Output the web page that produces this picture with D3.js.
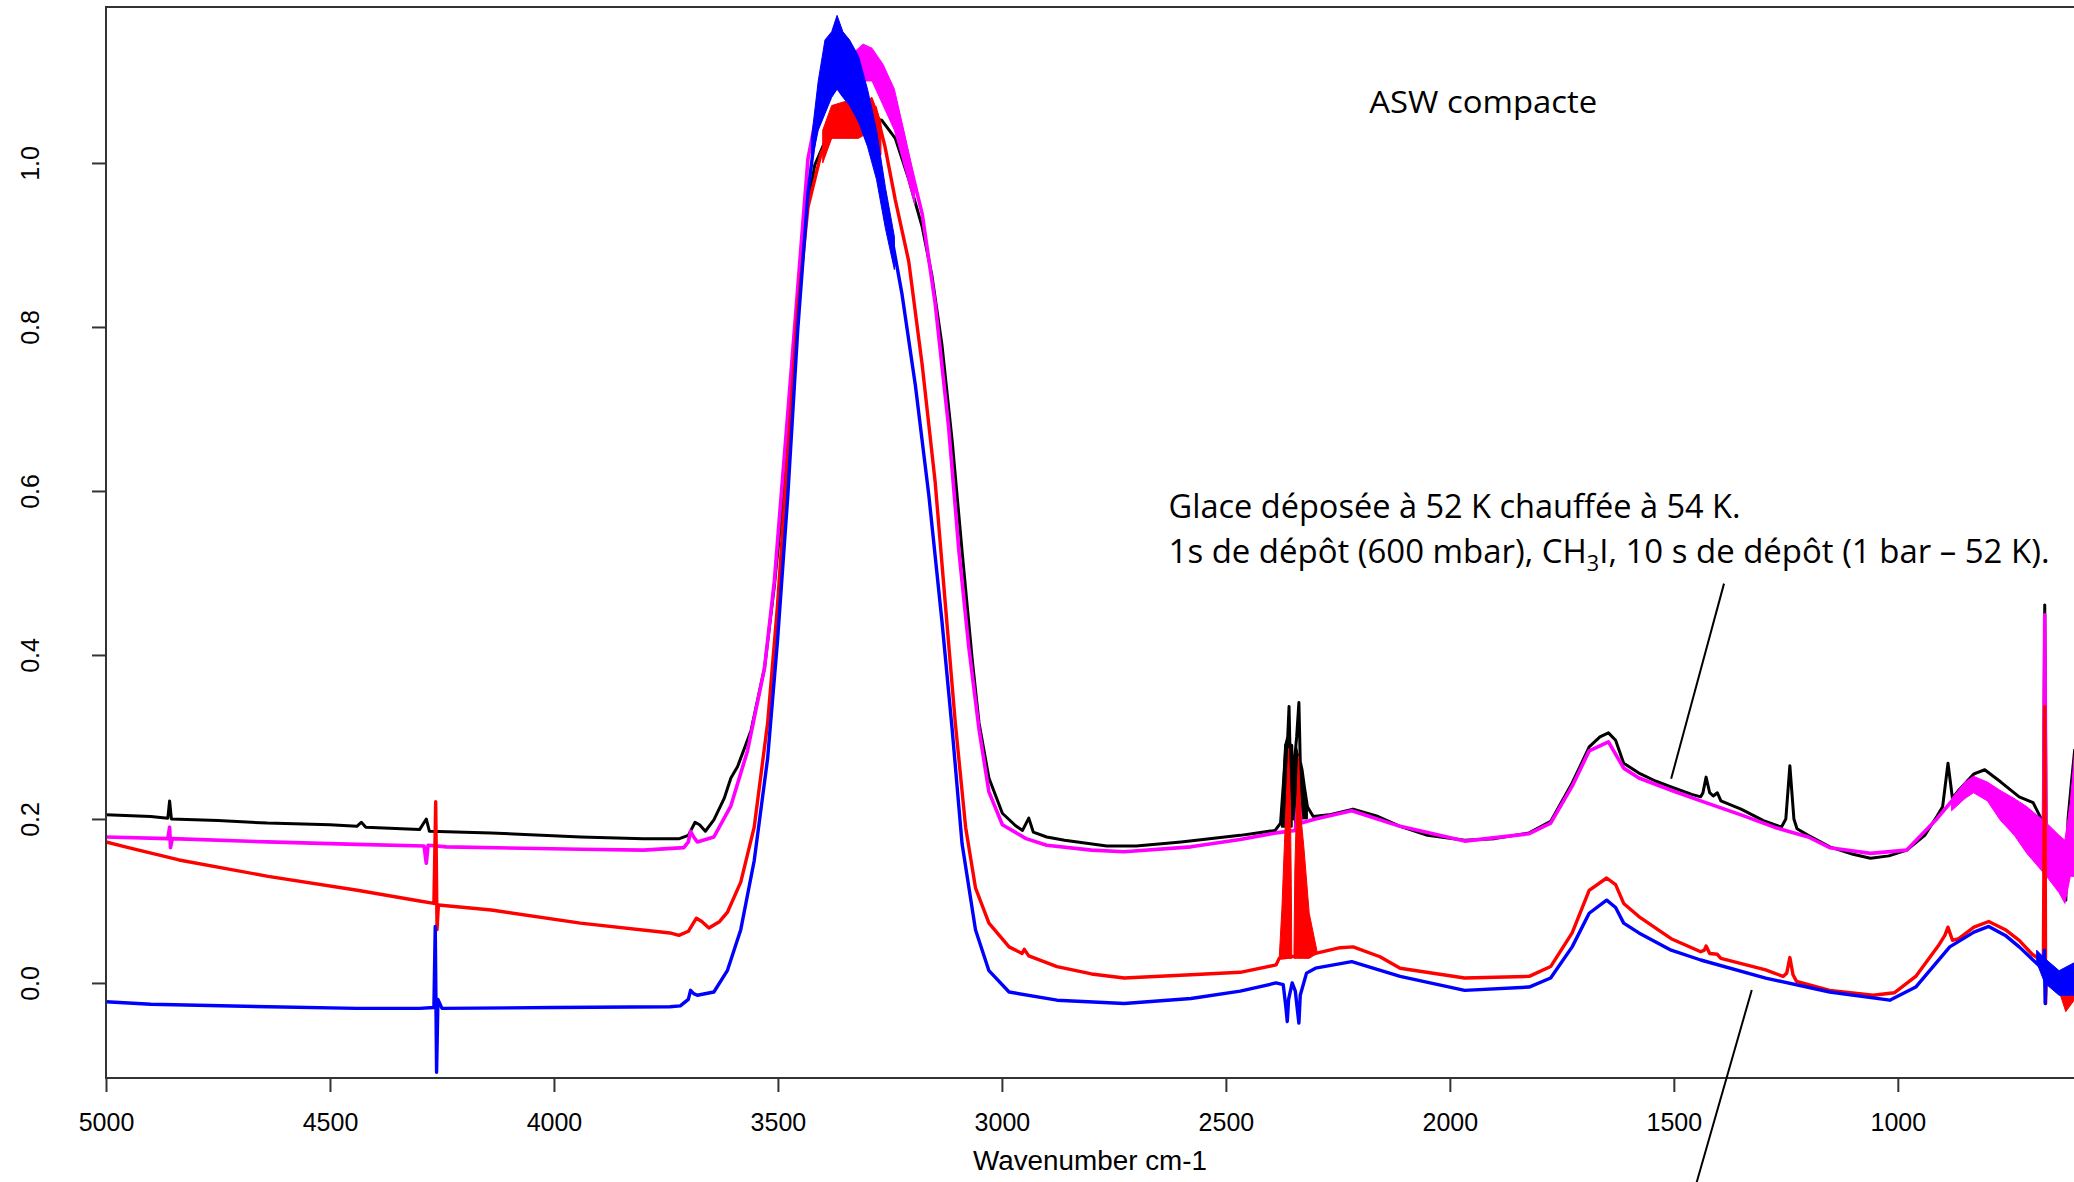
<!DOCTYPE html>
<html lang="fr">
<head>
<meta charset="UTF-8">
<title>ASW compacte</title>
<script src="https://d3js.org/d3.v7.min.js"></script>
<style>
  body { margin: 0; background: #fff; }
  .tick text { font-family: "Liberation Sans", Arial, sans-serif; }
  .note { font-family: "Open Sans", "Noto Sans", sans-serif; fill: #000; }
</style>
</head>
<body>
<svg id="chart" width="2074" height="1182"></svg>
<script>
// tick values
const xTicks = [5000, 4500, 4000, 3500, 3000, 2500, 2000, 1500, 1000];
const yTicks = [0.0, 0.2, 0.4, 0.6, 0.8, 1.0];

// spectra: [wavenumber, absorbance]
const blackLine = [
  [5000,0.205],[4900,0.203],[4862,0.201],[4858,0.222],[4854,0.2],[4750,0.198],[4640,0.195],[4500,0.193],
  [4440,0.191],[4430,0.196],[4420,0.19],[4300,0.187],[4285,0.2],[4278,0.185],[4140,0.183],[3940,0.178],
  [3800,0.176],[3720,0.176],[3700,0.18],[3685,0.196],[3675,0.193],[3662,0.185],[3643,0.199],[3620,0.225],
  [3605,0.25],[3590,0.264],[3560,0.308],[3530,0.384],[3508,0.484],[3485,0.611],[3463,0.779],[3441,0.922],
  [3418,0.997],[3388,1.035],[3358,1.044],[3328,1.04],[3298,1.055],[3268,1.052],[3238,1.03],[3208,0.98],
  [3178,0.922],[3156,0.862],[3134,0.779],[3111,0.661],[3089,0.527],[3066,0.393],[3051,0.317],[3029,0.25],
  [2999,0.207],[2970,0.192],[2954,0.186],[2940,0.201],[2930,0.184],[2900,0.178],[2860,0.174],[2766,0.167],
  [2700,0.167],[2600,0.172],[2468,0.18],[2390,0.186],[2378,0.195],[2372,0.24],[2366,0.29],[2362,0.3],
  [2359,0.337],[2356,0.26],[2353,0.29],[2350,0.2],[2347,0.27],[2342,0.3],[2337,0.342],[2334,0.27],
  [2330,0.26],[2325,0.24],[2318,0.215],[2305,0.203],[2270,0.205],[2216,0.212],[2160,0.203],[2111,0.191],
  [2050,0.18],[1967,0.174],[1900,0.176],[1823,0.183],[1775,0.197],[1727,0.244],[1700,0.275],[1689,0.288],
  [1665,0.3],[1646,0.305],[1630,0.296],[1612,0.268],[1578,0.256],[1540,0.246],[1506,0.239],[1460,0.23],
  [1440,0.227],[1435,0.232],[1428,0.251],[1420,0.232],[1412,0.228],[1403,0.232],[1395,0.222],[1350,0.212],
  [1300,0.198],[1260,0.19],[1250,0.2],[1241,0.265],[1232,0.2],[1225,0.188],[1200,0.18],[1152,0.166],
  [1100,0.157],[1061,0.152],[1020,0.155],[980,0.162],[940,0.18],[913,0.203],[900,0.215],[888,0.268],
  [878,0.225],[864,0.235],[830,0.255],[806,0.26],[770,0.245],[729,0.227],[698,0.22],[675,0.195],
  [672,0.461],[669,0.19],[650,0.18],[631,0.171],[625,0.101],[620,0.2],[612,0.247],[605,0.285]
];
const blackBands = [
  [[2376,0.19,0.2],[2369,0.19,0.29],[2362,0.19,0.3],[2354,0.19,0.28],[2352,0.19,0.2]],
  [[2347,0.19,0.22],[2343,0.19,0.29],[2335,0.2,0.27],[2325,0.2,0.235],[2318,0.2,0.212]]
];

const magentaLine = [
  [5000,0.178],[4862,0.176],[4858,0.19],[4856,0.165],[4852,0.176],[4640,0.172],[4440,0.169],[4290,0.167],
  [4285,0.146],[4281,0.168],[4240,0.166],[3940,0.163],[3800,0.162],[3710,0.165],[3700,0.172],[3695,0.185],
  [3688,0.178],[3680,0.172],[3643,0.178],[3605,0.216],[3568,0.283],[3530,0.384],[3508,0.49],[3478,0.695],
  [3456,0.846],[3433,1.005],[3403,1.089],[3373,1.11],[3328,1.11],[3298,1.125],[3268,1.11],[3238,1.075],
  [3208,1.005],[3178,0.938],[3149,0.829],[3119,0.678],[3096,0.527],[3074,0.41],[3051,0.309],[3029,0.233],
  [2999,0.193],[2946,0.176],[2900,0.168],[2800,0.162],[2727,0.16],[2578,0.166],[2468,0.175],[2388,0.183],
  [2345,0.186],[2338,0.227],[2332,0.195],[2300,0.2],[2219,0.21],[2111,0.191],[1967,0.173],[1823,0.182],
  [1775,0.195],[1727,0.24],[1689,0.283],[1646,0.294],[1612,0.262],[1578,0.25],[1506,0.235],[1440,0.222],
  [1350,0.205],[1276,0.19],[1200,0.178],[1152,0.165],[1061,0.158],[980,0.162],[913,0.2],[864,0.232],
  [831,0.242],[806,0.24],[772,0.217],[712,0.187],[675,0.165],[672,0.449],[669,0.16],[627,0.135],[605,0.2]
];
const magentaBands = [
  [[3340,1.09,1.13],[3310,1.1,1.145],[3290,1.1,1.14],[3265,1.07,1.12],[3240,1.04,1.09],[3215,0.99,1.03],[3195,0.95,0.98]],
  [[880,0.21,0.225],[850,0.225,0.245],[831,0.232,0.252],[800,0.222,0.245],[772,0.199,0.235],[740,0.18,0.225],
   [712,0.158,0.215],[668,0.13,0.195],[640,0.11,0.18],[627,0.097,0.174],[615,0.13,0.22],[605,0.13,0.284]]
];

const redLine = [
  [5000,0.172],[4950,0.165],[4837,0.15],[4638,0.13],[4439,0.113],[4300,0.1],[4268,0.097],[4264,0.221],
  [4261,0.065],[4258,0.095],[4140,0.089],[3941,0.073],[3741,0.061],[3721,0.058],[3700,0.063],[3682,0.079],
  [3670,0.075],[3654,0.067],[3630,0.075],[3613,0.086],[3583,0.123],[3553,0.19],[3523,0.317],[3501,0.46],
  [3478,0.644],[3456,0.821],[3433,0.946],[3403,1.013],[3373,1.04],[3343,1.05],[3313,1.04],[3283,1.068],
  [3261,1.02],[3238,0.955],[3208,0.88],[3178,0.754],[3149,0.611],[3126,0.46],[3104,0.317],[3081,0.19],
  [3059,0.116],[3029,0.073],[2984,0.044],[2955,0.036],[2950,0.041],[2940,0.033],[2877,0.02],[2800,0.011],
  [2727,0.006],[2578,0.01],[2468,0.013],[2388,0.022],[2381,0.03],[2300,0.036],[2245,0.043],[2216,0.044],
  [2156,0.032],[2111,0.018],[1967,0.006],[1823,0.008],[1775,0.02],[1727,0.061],[1689,0.113],[1650,0.128],
  [1630,0.12],[1612,0.097],[1578,0.081],[1506,0.054],[1440,0.038],[1432,0.04],[1428,0.045],[1420,0.036],
  [1403,0.035],[1395,0.03],[1295,0.016],[1256,0.008],[1248,0.012],[1241,0.031],[1234,0.01],[1226,0.002],
  [1152,-0.009],[1055,-0.015],[1008,-0.012],[960,0.008],[910,0.045],[895,0.058],[888,0.068],[878,0.052],
  [864,0.054],[830,0.068],[797,0.075],[760,0.065],[729,0.052],[700,0.035],[675,0.026],[672,0.337],
  [670,-0.025],[668,0.022],[640,0.0],[620,-0.012],[605,0.0]
];
const redBands = [
  [[3400,1.0,1.04],[3380,1.03,1.07],[3350,1.03,1.075],[3320,1.03,1.07],[3290,1.04,1.08],[3270,1.01,1.05]],
  [[2381,0.03,0.03],[2375,0.03,0.09],[2370,0.03,0.16],[2365,0.03,0.227],[2360,0.03,0.286],[2356,0.03,0.22],
   [2354,0.03,0.12],[2353,0.03,0.04]],
  [[2348,0.03,0.04],[2346,0.03,0.14],[2342,0.03,0.22],[2338,0.03,0.277],[2332,0.03,0.2],
   [2326,0.03,0.166],[2314,0.03,0.085],[2297,0.036,0.04]],
  [[640,-0.01,0.01],[625,-0.035,0.0],[605,-0.02,0.012]]
];

const blueLine = [
  [5000,-0.023],[4900,-0.026],[4638,-0.029],[4440,-0.031],[4300,-0.031],[4268,-0.03],[4265,0.069],
  [4262,-0.109],[4259,-0.02],[4250,-0.031],[4000,-0.03],[3741,-0.029],[3718,-0.028],[3700,-0.02],
  [3695,-0.009],[3688,-0.013],[3680,-0.015],[3643,-0.011],[3613,0.015],[3583,0.065],[3553,0.149],
  [3523,0.274],[3501,0.417],[3478,0.594],[3456,0.795],[3433,0.963],[3403,1.098],[3388,1.12],[3366,1.14],
  [3343,1.11],[3313,1.08],[3283,1.013],[3253,0.93],[3223,0.84],[3193,0.728],[3163,0.594],[3134,0.442],
  [3111,0.309],[3089,0.17],[3059,0.065],[3029,0.015],[2984,-0.011],[2877,-0.021],[2727,-0.025],
  [2578,-0.019],[2468,-0.01],[2388,0.0],[2372,-0.002],[2366,-0.03],[2363,-0.047],[2360,-0.02],[2352,0.0],
  [2345,-0.01],[2340,-0.035],[2337,-0.049],[2334,-0.015],[2320,0.012],[2300,0.018],[2219,0.026],
  [2111,0.008],[1967,-0.009],[1823,-0.005],[1775,0.006],[1727,0.044],[1689,0.085],[1650,0.101],
  [1630,0.092],[1612,0.073],[1578,0.061],[1506,0.04],[1440,0.028],[1295,0.006],[1152,-0.011],
  [1018,-0.021],[960,-0.005],[884,0.044],[830,0.062],[797,0.069],[760,0.058],[729,0.044],[675,0.016],
  [673,0.04],[671,-0.025],[669,0.01],[620,-0.009],[605,0.0]
];
const blueBands = [
  [[3425,1.0,1.03],[3410,1.04,1.1],[3395,1.06,1.15],[3380,1.08,1.16],[3368,1.09,1.18],[3355,1.08,1.16],
   [3340,1.07,1.15],[3320,1.05,1.13],[3300,1.02,1.09],[3280,0.98,1.04],[3260,0.92,0.97],[3240,0.87,0.91]],
  [[690,0.025,0.04],[672,0.0,0.03],[640,-0.015,0.015],[605,-0.015,0.025]]
];

// annotations in data units: [wavenumber, absorbance]
const pointerLines = [
  [[1388, 0.487], [1506, 0.249]],
  [[1326, -0.0085], [1449, -0.243]]
];

const series = [
  {line: blackLine, bands: blackBands, color: "#000000", w: 3},
  {line: magentaLine, bands: magentaBands, color: "#ff00ff", w: 3.6},
  {line: redLine, bands: redBands, color: "#ff0000", w: 3.4},
  {line: blueLine, bands: blueBands, color: "#0000ff", w: 3.4}
];

const svg = d3.select("#chart");
const plotLeft = 106, plotRight = 2077, plotTop = 7, plotBottom = 1078;

const x = d3.scaleLinear().domain([5000, 600]).range([plotLeft, plotRight]);
const y = d3.scaleLinear().domain([-0.1159, 1.1902]).range([plotBottom, plotTop]);

svg.append("defs").append("clipPath").attr("id", "plotClip")
  .append("rect").attr("x", plotLeft).attr("y", plotTop)
  .attr("width", plotRight - plotLeft).attr("height", plotBottom - plotTop);

const plot = svg.append("g").attr("clip-path", "url(#plotClip)");

const line = d3.line().x(d => x(d[0])).y(d => y(d[1]));
const area = d3.area().x(d => x(d[0])).y0(d => y(d[1])).y1(d => y(d[2]));

series.forEach(s => {
  const g = plot.append("g");
  g.selectAll("path.band").data(s.bands).enter().append("path")
    .attr("class", "band")
    .attr("d", area)
    .attr("fill", s.color)
    .attr("stroke", s.color)
    .attr("stroke-width", 1);
  g.append("path")
    .attr("d", line(s.line))
    .attr("fill", "none")
    .attr("stroke", s.color)
    .attr("stroke-width", s.w)
    .attr("stroke-linejoin", "round");
});

// frame
svg.append("rect")
  .attr("x", plotLeft).attr("y", plotTop)
  .attr("width", plotRight - plotLeft).attr("height", plotBottom - plotTop)
  .attr("fill", "none").attr("stroke", "#333").attr("stroke-width", 2);

// x axis
const xAxis = svg.append("g")
  .attr("transform", `translate(0,${plotBottom})`)
  .call(d3.axisBottom(x).tickValues(xTicks).tickSize(14).tickPadding(21).tickFormat(d3.format("d")));
xAxis.select(".domain").remove();
xAxis.selectAll(".tick line").attr("stroke", "#333").attr("stroke-width", 2);
xAxis.selectAll(".tick text").attr("font-size", 25).attr("fill", "#000");

// y axis, labels turned like in R
const yAxis = svg.append("g")
  .attr("transform", `translate(${plotLeft},0)`)
  .call(d3.axisLeft(y).tickValues(yTicks).tickSize(14).tickFormat(d3.format(".1f")));
yAxis.select(".domain").remove();
yAxis.selectAll(".tick line").attr("stroke", "#333").attr("stroke-width", 2);
yAxis.selectAll(".tick text")
  .attr("x", null).attr("dy", null)
  .attr("transform", "translate(-67,0) rotate(-90)")
  .attr("text-anchor", "middle")
  .attr("font-size", 25).attr("fill", "#000");

svg.append("text")
  .attr("x", (plotLeft + 2074) / 2).attr("y", 1170)
  .attr("text-anchor", "middle")
  .attr("font-family", "Liberation Sans, Arial, sans-serif")
  .attr("font-size", 27)
  .attr("textLength", 234).attr("lengthAdjust", "spacingAndGlyphs")
  .text("Wavenumber cm-1");

// notes
svg.append("text").attr("class", "note")
  .attr("x", x(2180)).attr("y", y(1.061))
  .attr("font-size", 31)
  .attr("textLength", 228).attr("lengthAdjust", "spacingAndGlyphs")
  .text("ASW compacte");

svg.append("text").attr("class", "note")
  .attr("x", x(2628)).attr("y", y(0.567))
  .attr("font-size", 32)
  .attr("textLength", 572).attr("lengthAdjust", "spacingAndGlyphs")
  .text("Glace déposée à 52 K chauffée à 54 K.");

const t2 = svg.append("text").attr("class", "note")
  .attr("x", x(2628)).attr("y", y(0.512))
  .attr("font-size", 32)
  .attr("textLength", 881).attr("lengthAdjust", "spacingAndGlyphs");
t2.append("tspan").text("1s de dépôt (600 mbar), CH");
t2.append("tspan").attr("font-size", 21).attr("dy", 8).text("3");
t2.append("tspan").attr("dy", -8).text("I, 10 s de dépôt (1 bar – 52 K).");

svg.selectAll("line.pointer").data(pointerLines).enter().append("line")
  .attr("class", "pointer")
  .attr("x1", d => x(d[0][0])).attr("y1", d => y(d[0][1]))
  .attr("x2", d => x(d[1][0])).attr("y2", d => y(d[1][1]))
  .attr("stroke", "#000").attr("stroke-width", 2);
</script>
</body>
</html>
